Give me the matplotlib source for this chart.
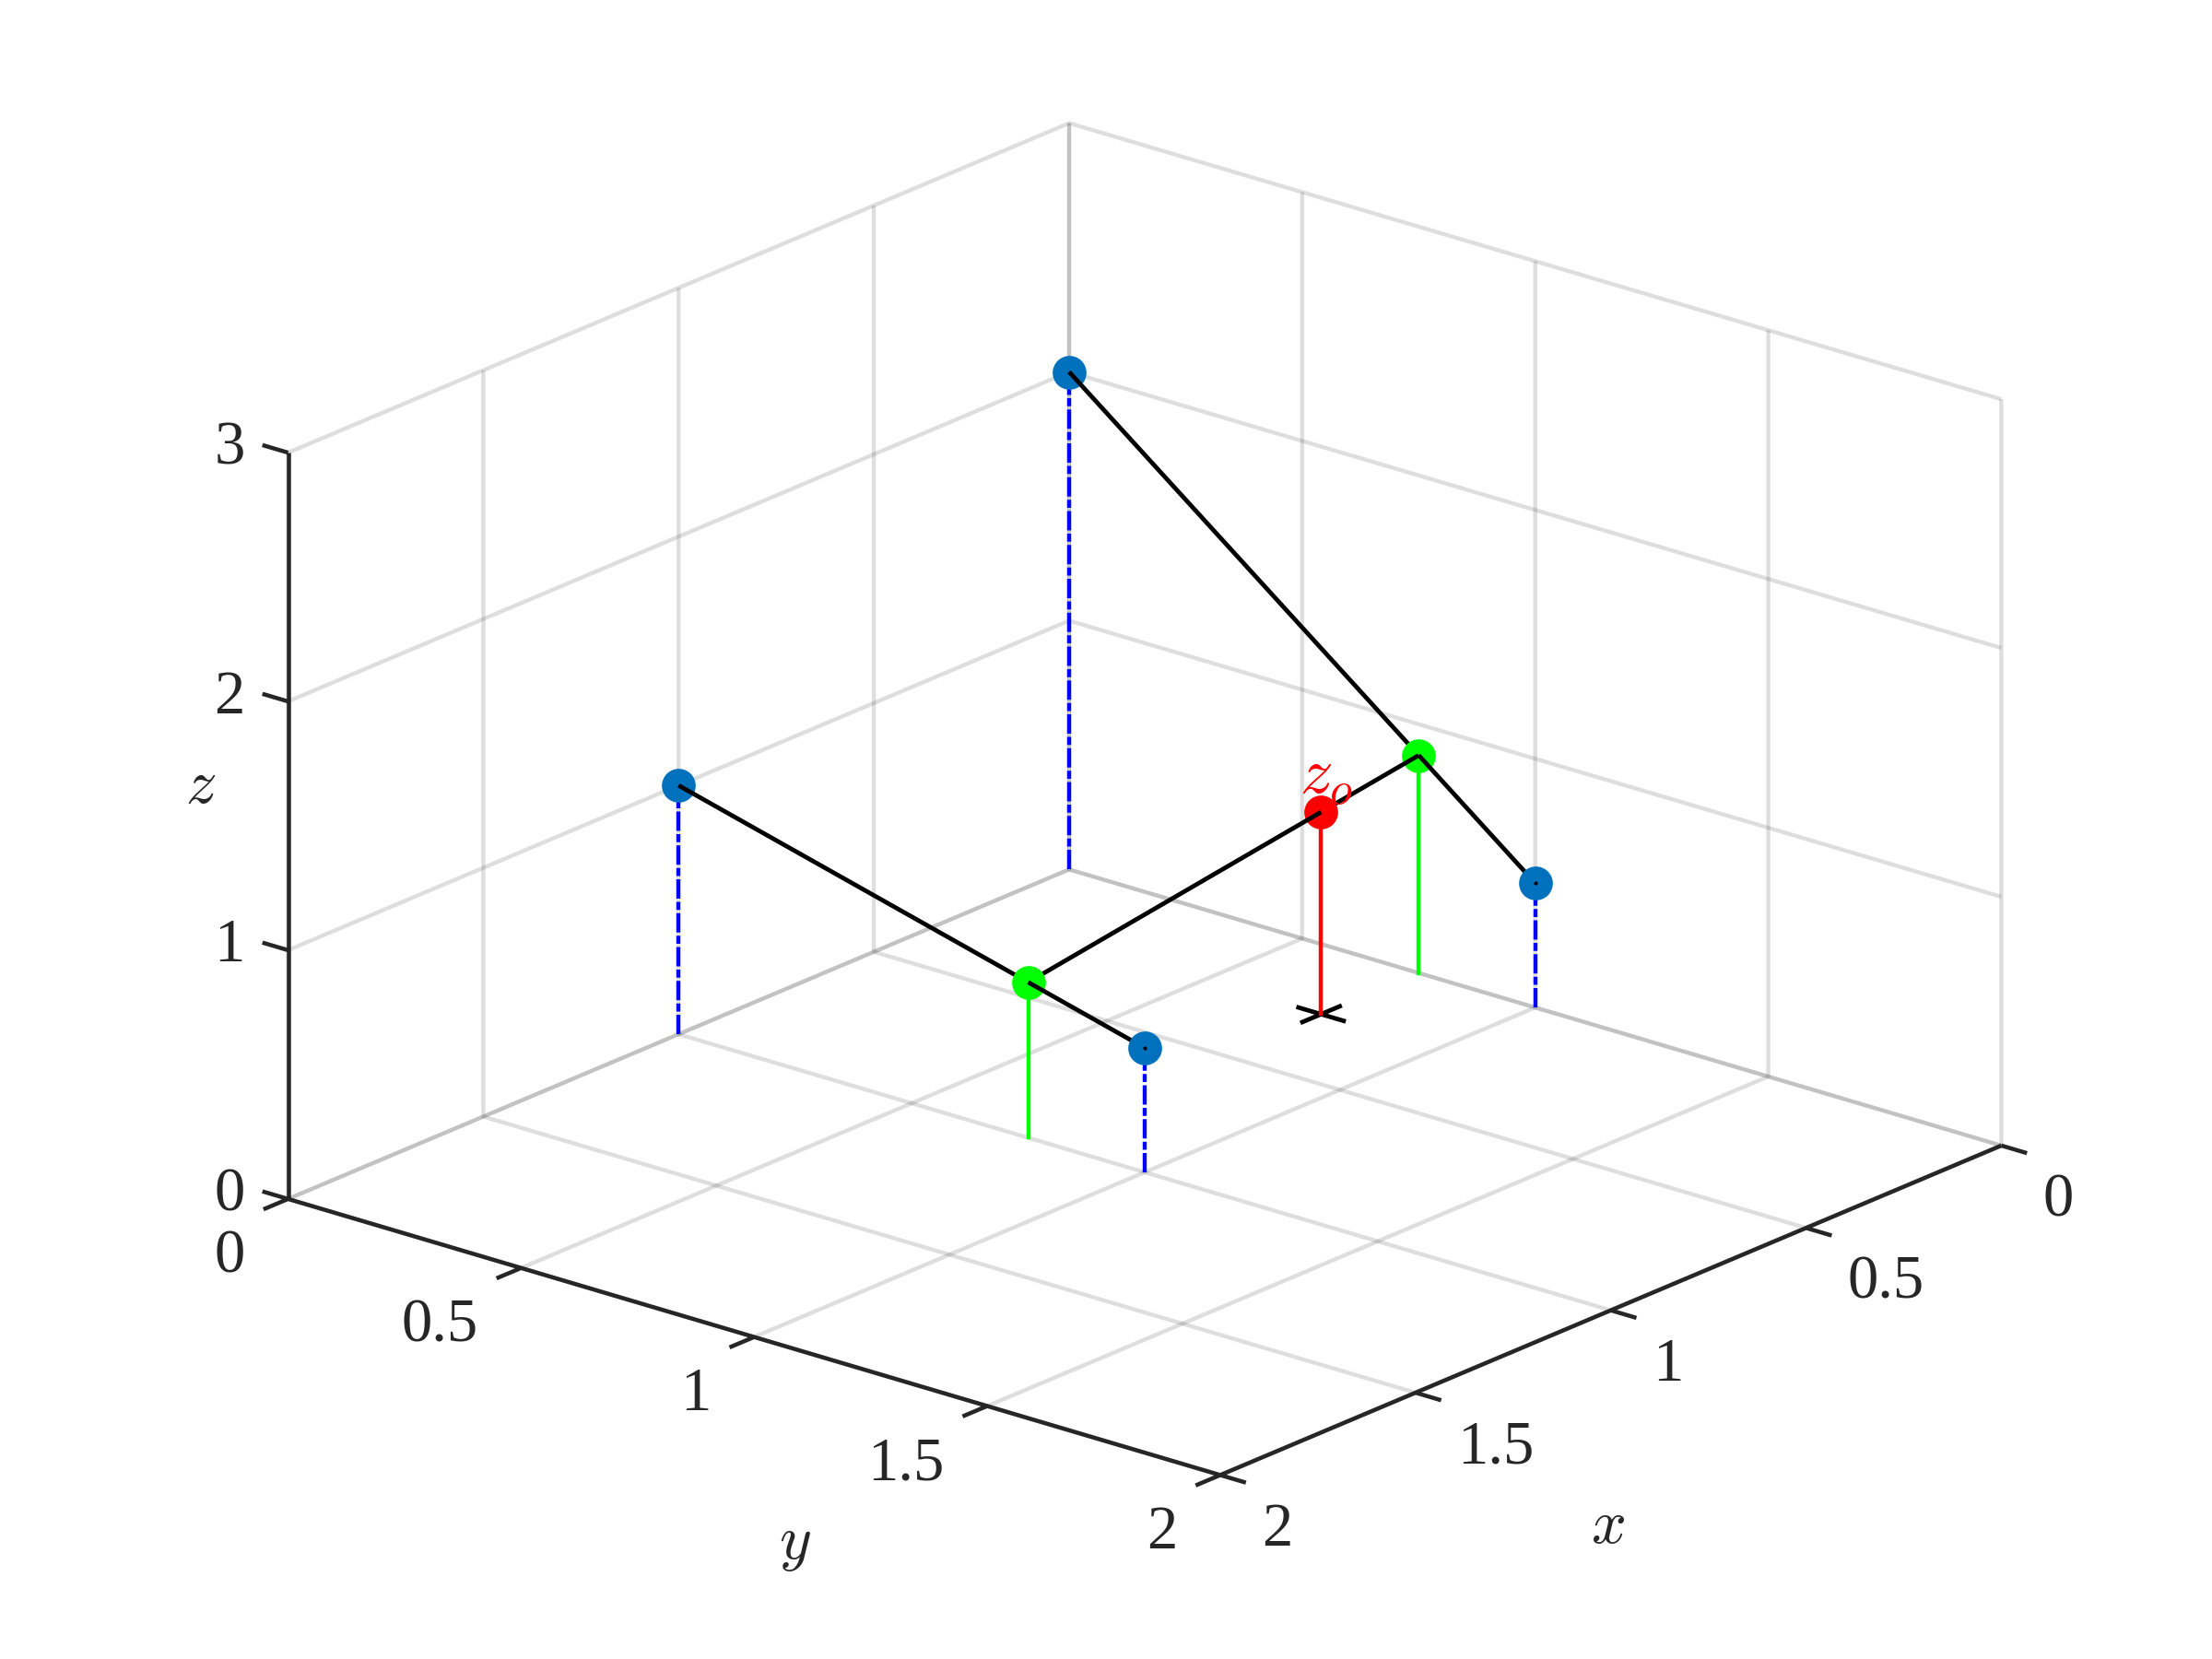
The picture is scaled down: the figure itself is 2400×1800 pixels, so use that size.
import matplotlib
matplotlib.use("Agg")
import matplotlib.pyplot as plt
from mpl_toolkits.mplot3d import proj3d

plt.rcParams['font.family'] = ['Liberation Serif', 'DejaVu Serif']
plt.rcParams['mathtext.fontset'] = 'cm'
plt.rcParams['grid.color'] = (0.15, 0.15, 0.15, 0.15)
plt.rcParams['grid.linewidth'] = 1.05

# ticks
x_ticks = [0, 0.5, 1, 1.5, 2]
y_ticks = [0, 0.5, 1, 1.5, 2]
z_ticks = [0, 1, 2, 3]
x_labels = ['0', '0.5', '1', '1.5', '2']
y_labels = ['0', '0.5', '1', '1.5', '2']
z_labels = ['0', '1', '2', '3']

# blue end points
blue_x = [1, 0, 1, 0]
blue_y = [0, 0, 1, 1]
blue_z = [1, 2, 0.5, 0.5]

# green points
green_x = [1, 0]
green_y = [0.75, 0.75]
green_z = [0.625, 0.875]

# red point
red_x = [0.25]
red_y = [0.75]
red_z = [0.8125]

# black segments, listed from the far node to the near node
seg_x = [[0, 0], [0, 0], [1, 1], [1, 1], [0, 0.25], [0.25, 1]]
seg_y = [[0, 0.75], [0.75, 1], [0, 0.75], [0.75, 1], [0.75, 0.75], [0.75, 0.75]]
seg_z = [[2, 0.875], [0.875, 0.5], [1, 0.625], [0.625, 0.5], [0.875, 0.8125], [0.8125, 0.625]]

cross_half = 0.053

AZ, EL = 39.96, 20.7
AX_COLOR = '#262626'
S = 1997.0

fig = plt.figure(figsize=(8, 6), dpi=300, facecolor='white')
ax = fig.add_axes([216.5 / 2400, -92.5 / 1800, S / 2400, S / 1800],
                  projection='3d', proj_type='ortho', computed_zorder=False)
ax.view_init(elev=EL, azim=AZ)
ax.set_box_aspect((1, 1, 0.656))
ax.set_xlim(0, 2)
ax.set_ylim(0, 2)
ax.set_zlim(0, 3)
ax.set_xticks(x_ticks)
ax.set_yticks(y_ticks)
ax.set_zticks(z_ticks)
ax.grid(True)

# the native axis only supplies the grid
for axis in (ax.xaxis, ax.yaxis, ax.zaxis):
    axis.set_pane_color((1, 1, 1, 0))
    axis.pane.set_edgecolor('none')
    axis.line.set_color('none')
    axis.set_ticklabels([])
    axis._axinfo['tick']['inward_factor'] = 0
    axis._axinfo['tick']['outward_factor'] = 0
ax.tick_params(color='none')
ax.patch.set_alpha(0)


def label(px, py, pz, s, dx, dy, **kw):
    # text placed a few pixels off a projected 3d point
    x2, y2, _ = proj3d.proj_transform(px, py, pz, ax.get_proj())
    kw.setdefault('color', AX_COLOR)
    kw.setdefault('fontsize', 16)
    ax.annotate(s, xy=(x2, y2), xycoords='data', xytext=(dx, dy),
                textcoords='offset pixels', va='center', **kw)


# axis lines
axkw = dict(color=AX_COLOR, lw=1.08, solid_capstyle='butt', zorder=3)
ax.plot([0, 2], [2, 2], [0, 0], **axkw)
ax.plot([2, 2], [0, 2], [0, 0], **axkw)
ax.plot([2, 2], [0, 0], [0, 3], **axkw)

# tick marks and labels
for t, s in zip(x_ticks, x_labels):
    ax.plot([t, t], [2, 2.055], [0, 0], **axkw)
    label(t, 2, 0, s, 45, -60, ha='left')
for t, s in zip(y_ticks, y_labels):
    ax.plot([2, 2.063], [t, t], [0, 0], **axkw)
    label(2, t, 0, s, -47, -63, ha='right')
for t, s in zip(z_ticks, z_labels):
    ax.plot([2, 2], [0, -0.055], [t, t], **axkw)
    label(2, 0, t, s, -47, 4, ha='right')

# axis labels
label(1, 2, 0, '$x$', -3, -236, ha='center')
label(2, 1, 0, '$y$', 44, -226, ha='center')
label(2, 0, 1.5, '$z$', -95, 41, ha='center')

# stems down to the floor
for px, py, pz in zip(blue_x, blue_y, blue_z):
    ax.plot([px, px], [py, py], [0, pz], color='#0000ff', lw=1.05,
            ls=(0, (4.8, 0.8, 2, 0.8)), dash_capstyle='butt', zorder=4)
for px, py, pz in zip(green_x, green_y, green_z):
    ax.plot([px, px], [py, py], [0, pz], color='#00ff00', lw=1.05, zorder=4)
ax.plot([red_x[0], red_x[0]], [red_y[0], red_y[0]], [0, red_z[0]], color='#ff0000', lw=1.05, zorder=4.1)

# cross in the floor plane under the red point
ax.plot([red_x[0], red_x[0]], [red_y[0] - cross_half, red_y[0] + cross_half], [0, 0],
        color='k', lw=1.15, solid_capstyle='butt', zorder=4)
ax.plot([red_x[0] - cross_half, red_x[0] + cross_half], [red_y[0], red_y[0]], [0, 0],
        color='k', lw=1.15, solid_capstyle='butt', zorder=4)


def depth(px, py):
    # x and y weigh in by the view direction
    return px * 0.766 + py * 0.643


# markers and black segments are stacked far to near, a segment sits
# over the marker at its far end and under the one at its near end
for xs, ys, zs, col in ((blue_x, blue_y, blue_z, '#0072BD'),
                        (green_x, green_y, green_z, '#00ff00'),
                        (red_x, red_y, red_z, '#ff0000')):
    for px, py, pz in zip(xs, ys, zs):
        ax.plot([px], [py], [pz], 'o', color=col, ms=8.8, mew=0, zorder=5 + depth(px, py))

for xs, ys, zs in zip(seg_x, seg_y, seg_z):
    ax.plot(xs, ys, zs, color='k', lw=1.15, solid_capstyle='butt',
            zorder=5 + depth(xs[0], ys[0]) + 0.01)

# little dot left in the middle of the two nearest-end markers
ax.plot([0, 1], [1, 1], [0.5, 0.5], 'o', color='k', ms=1.0, mew=0, ls='none', zorder=9)

label(red_x[0], red_y[0], red_z[0], '$z_o$', 6, 38, ha='center', color='#ff0000',
      fontsize=17, zorder=10)

fig.savefig('out.png', dpi=300)
